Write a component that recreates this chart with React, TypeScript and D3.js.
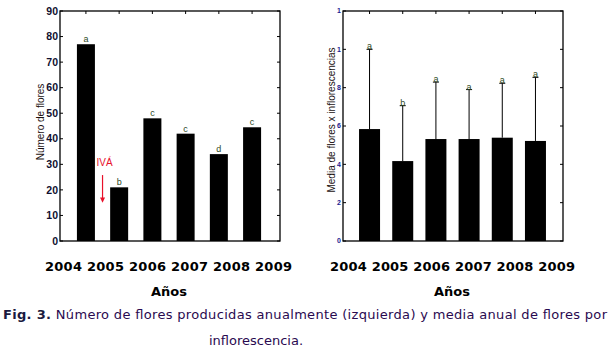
import { useEffect, useRef } from 'react';
import * as d3 from 'd3';

// Data
const years = [2004, 2005, 2006, 2007, 2008, 2009];
const flowerCounts = [77, 21, 48, 42, 34, 44.5];
const countLetters = ['a', 'b', 'c', 'c', 'd', 'c'];
const meanFlowers = [5.84, 4.17, 5.32, 5.32, 5.39, 5.22];
const meanErrors = [4.16, 2.89, 2.97, 2.58, 2.84, 3.32];
const meanLetters = ['a', 'b', 'a', 'a', 'a', 'a'];
const countTicks = [0, 10, 20, 30, 40, 50, 60, 70, 80, 90];
const meanTicks = [0, 2, 4, 6, 8, 10, 12];
const meanTickLabels = ['0', '2', '4', '6', '8', '1', '1'];

const W = 613;
const H = 352;
const sans = 'Arial, "Liberation Sans", sans-serif';
const verdana = 'Verdana, "DejaVu Sans", sans-serif';

export default function App() {
  const svgRef = useRef<SVGSVGElement>(null);

  useEffect(() => {
    if (!svgRef.current) return;
    const svg = d3.select(svgRef.current);
    svg.selectAll('*').remove();

    const top = 11;
    const bottom = 241;

    function panel(opts: {
      left: number;
      right: number;
      xDomain: [number, number];
      yMax: number;
      values: number[];
      errors?: number[];
      letters: string[];
      ticks: number[];
      tickLabels: string[];
      barWidth: number;
      tickFont: number;
      tickColor: string;
      label: string;
      labelX: number;
      labelY: number;
    }) {
      const x = d3.scaleLinear().domain(opts.xDomain).range([opts.left, opts.right]);
      const y = d3.scaleLinear().domain([0, opts.yMax]).range([bottom, top]);
      const g = svg.append('g');

      // bars
      g.selectAll('rect.bar')
        .data(opts.values)
        .join('rect')
        .attr('class', 'bar')
        .attr('x', (_, i) => x(years[i]) - opts.barWidth / 2)
        .attr('y', (d) => y(d))
        .attr('width', opts.barWidth)
        .attr('height', (d) => bottom - y(d))
        .attr('fill', '#000');

      // error bars (upper only)
      if (opts.errors) {
        const errs = opts.errors;
        g.selectAll('line.err')
          .data(opts.values)
          .join('line')
          .attr('class', 'err')
          .attr('x1', (_, i) => x(years[i]))
          .attr('x2', (_, i) => x(years[i]))
          .attr('y1', (d) => y(d))
          .attr('y2', (d, i) => y(d + errs[i]))
          .attr('stroke', '#000')
          .attr('stroke-width', 1);
        g.selectAll('line.cap')
          .data(opts.values)
          .join('line')
          .attr('class', 'cap')
          .attr('x1', (_, i) => x(years[i]) - 3)
          .attr('x2', (_, i) => x(years[i]) + 3)
          .attr('y1', (d, i) => y(d + errs[i]))
          .attr('y2', (d, i) => y(d + errs[i]))
          .attr('stroke', '#000')
          .attr('stroke-width', 1);
      }

      // significance letters
      g.selectAll('text.letter')
        .data(opts.letters)
        .join('text')
        .attr('class', 'letter')
        .attr('x', (_, i) => x(years[i]))
        .attr('y', (_, i) => y(opts.values[i] + (opts.errors ? opts.errors[i] : 0)) - (opts.errors ? 0 : 2))
        .attr('text-anchor', 'middle')
        .attr('font-family', sans)
        .attr('font-size', 9)
        .attr('fill', '#2e4a1e')
        .text((d) => d);

      // frame
      g.append('rect')
        .attr('x', opts.left)
        .attr('y', top)
        .attr('width', opts.right - opts.left)
        .attr('height', bottom - top)
        .attr('fill', 'none')
        .attr('stroke', '#000')
        .attr('stroke-width', 1.3);

      // inward ticks on left & right
      opts.ticks.forEach((t) => {
        g.append('line').attr('x1', opts.left).attr('x2', opts.left + 3)
          .attr('y1', y(t)).attr('y2', y(t)).attr('stroke', '#000');
        g.append('line').attr('x1', opts.right).attr('x2', opts.right - 3)
          .attr('y1', y(t)).attr('y2', y(t)).attr('stroke', '#000');
      });
      // top ticks at each year
      years.forEach((yr) => {
        g.append('line').attr('x1', x(yr)).attr('x2', x(yr))
          .attr('y1', top).attr('y2', top + 3).attr('stroke', '#000');
      });

      g.selectAll('text.tick')
        .data(opts.ticks)
        .join('text')
        .attr('class', 'tick')
        .attr('x', opts.left - 2)
        .attr('y', (d) => y(d))
        .attr('dy', '0.35em')
        .attr('text-anchor', 'end')
        .attr('font-family', sans)
        .attr('font-weight', 700)
        .attr('font-size', opts.tickFont)
        .attr('fill', opts.tickColor)
        .text((_, i) => opts.tickLabels[i]);

      g.append('text')
        .attr('transform', `translate(${opts.labelX},${opts.labelY}) rotate(-90)`)
        .attr('text-anchor', 'middle')
        .attr('dy', '0.35em')
        .attr('font-family', sans)
        .attr('font-size', 10)
        .attr('fill', '#1a1010')
        .text(opts.label);

      return { x, y };
    }

    const left = panel({
      left: 60,
      right: 280,
      xDomain: [2003.22, 2009.84],
      yMax: 90,
      values: flowerCounts,
      letters: countLetters,
      ticks: countTicks,
      tickLabels: countTicks.map(String),
      barWidth: 18,
      tickFont: 10.5,
      tickColor: '#101030',
      label: 'Número de flores',
      labelX: 40,
      labelY: 122,
    });

    panel({
      left: 343,
      right: 563,
      xDomain: [2003.2, 2009.83],
      yMax: 12,
      values: meanFlowers,
      errors: meanErrors,
      letters: meanLetters,
      ticks: meanTicks,
      tickLabels: meanTickLabels,
      barWidth: 21,
      tickFont: 7,
      tickColor: '#1a1a90',
      label: 'Media de flores x inflorescencias',
      labelX: 331,
      labelY: 120,
    });

    // IVÁ annotation with arrow
    const ax = (left.x(2004) + left.x(2005)) / 2;
    svg.append('text')
      .attr('x', ax + 2)
      .attr('y', left.y(29.5))
      .attr('text-anchor', 'middle')
      .attr('font-family', sans)
      .attr('font-size', 10)
      .attr('fill', '#e8102a')
      .text('IVÁ');
    svg.append('line')
      .attr('x1', ax).attr('x2', ax)
      .attr('y1', left.y(25.8)).attr('y2', left.y(16.5))
      .attr('stroke', '#e8102a').attr('stroke-width', 1.2);
    svg.append('path')
      .attr('d', `M${ax - 2.5},${left.y(17)} L${ax + 2.5},${left.y(17)} L${ax},${left.y(15)} Z`)
      .attr('fill', '#e8102a');

    // Year rows and axis titles under the charts
    const bold13 = (x: number, y: number, t: string) =>
      svg.append('text')
        .attr('x', x).attr('y', y)
        .attr('text-anchor', 'middle')
        .attr('font-family', verdana).attr('font-weight', 700).attr('font-size', 13)
        .text(t);
    bold13(168.5, 271, years.join(' ')).attr('textLength', 247).attr('lengthAdjust', 'spacing');
    bold13(452.5, 271, years.join(' ')).attr('textLength', 245).attr('lengthAdjust', 'spacing');
    bold13(169, 296, 'Años');
    bold13(452, 296, 'Años');

    // caption
    const cap = svg.append('text')
      .attr('x', 3).attr('y', 319)
      .attr('font-family', verdana).attr('font-size', 13)
      .attr('textLength', 604).attr('lengthAdjust', 'spacing');
    cap.append('tspan').attr('font-weight', 700).attr('fill', '#1a1a40').text('Fig. 3.');
    cap.append('tspan').attr('fill', '#2a0a50').text(' Número de flores producidas anualmente (izquierda) y media anual de flores por');
    svg.append('text')
      .attr('x', 209).attr('y', 345)
      .attr('font-family', verdana).attr('font-size', 13)
      .attr('fill', '#2a0a50')
      .text('inflorescencia.');
  }, []);

  return (
    <div style={{ position: 'absolute', left: 0, top: 0 }}>
      <svg ref={svgRef} width={W} height={H} style={{ display: 'block', background: '#fff' }} />
    </div>
  );
}
